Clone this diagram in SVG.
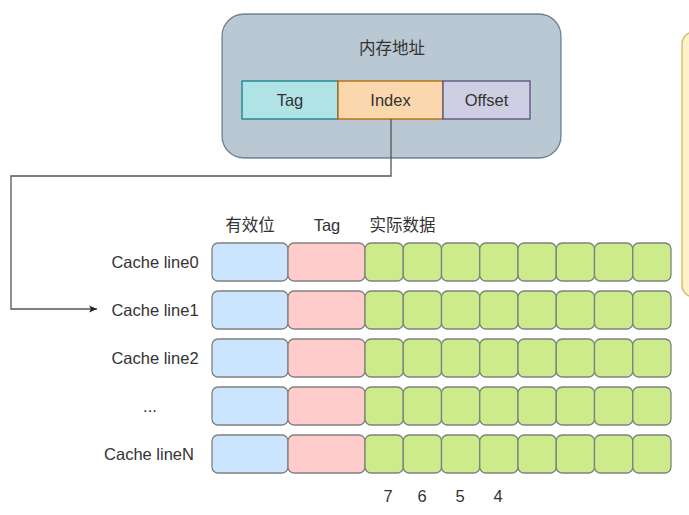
<svg xmlns="http://www.w3.org/2000/svg" width="689" height="515" viewBox="0 0 689 515">
<defs>
<style>
text{font-family:"Liberation Sans",Arial,"Noto Sans CJK SC",sans-serif;fill:#333;text-anchor:middle}
.t{font-size:16.5px}
.cjk{font-family:"Noto Sans CJK SC","Liberation Sans",sans-serif;font-size:16.5px}
.b{fill:#cce5ff;stroke:#808080;stroke-width:1.3}
.p{fill:#ffcccc;stroke:#808080;stroke-width:1.3}
.g{fill:#cdeb8b;stroke:#808080;stroke-width:1.3}
.conn{fill:none;stroke:#555;stroke-width:1.3}
</style>
<marker id="arr" markerWidth="10" markerHeight="10" refX="8" refY="5" orient="auto" markerUnits="userSpaceOnUse">
<path d="M0,1.5 L8,5 L0,8.5 L2,5 Z" fill="#222"/>
</marker>
<g id="cacheRow">
<rect class="b" x="212" y="0" width="76" height="38" rx="6"/>
<rect class="p" x="288" y="0" width="77" height="38" rx="6"/>
<rect class="g" x="365" y="0" width="38.25" height="38" rx="6"/>
<rect class="g" x="403.25" y="0" width="38.25" height="38" rx="6"/>
<rect class="g" x="441.5" y="0" width="38.25" height="38" rx="6"/>
<rect class="g" x="479.75" y="0" width="38.25" height="38" rx="6"/>
<rect class="g" x="518" y="0" width="38.25" height="38" rx="6"/>
<rect class="g" x="556.25" y="0" width="38.25" height="38" rx="6"/>
<rect class="g" x="594.5" y="0" width="38.25" height="38" rx="6"/>
<rect class="g" x="632.75" y="0" width="38.25" height="38" rx="6"/>
</g>
</defs>
<rect width="689" height="515" fill="#fff"/>
<g id="note">
<rect x="682" y="32" width="60" height="265" rx="12" fill="#fff2cc" stroke="#d6b656" stroke-width="1.3"/>
</g>
<g id="address">
<rect x="222" y="14" width="339" height="144" rx="22" fill="#bac8d3" stroke="#23445d" stroke-opacity="0.6" stroke-width="1.3"/>
<text class="cjk" x="392" y="54">内存地址</text>
</g>
<g id="addrTag">
<rect x="242" y="81" width="96" height="38" fill="#b0e3e6" stroke="#0e8088" stroke-width="1.3"/>
<text class="t" x="290" y="106">Tag</text>
</g>
<g id="addrIndex">
<rect x="338" y="81" width="105" height="38" fill="#fad7ac" stroke="#b46504" stroke-width="1.3"/>
<text class="t" x="390.5" y="106">Index</text>
</g>
<g id="addrOffset">
<rect x="443" y="81" width="87" height="38" fill="#d0cee2" stroke="#56517e" stroke-width="1.3"/>
<text class="t" x="486.5" y="106">Offset</text>
</g>
<g id="connectors">
<path class="conn" d="M391,119 V176 H11 V309 H97" marker-end="url(#arr)"/>
</g>
<g id="headers">
<text class="cjk" x="250" y="231">有效位</text>
<text class="t" x="327" y="231">Tag</text>
<text class="cjk" x="402.5" y="231">实际数据</text>
</g>
<g id="line0">
<use href="#cacheRow" y="243"/>
<text class="t" x="155" y="268">Cache line0</text>
</g>
<g id="line1">
<use href="#cacheRow" y="291"/>
<text class="t" x="155" y="316">Cache line1</text>
</g>
<g id="line2">
<use href="#cacheRow" y="339"/>
<text class="t" x="155" y="364">Cache line2</text>
</g>
<g id="lineDots">
<use href="#cacheRow" y="387"/>
<text class="t" x="150" y="412">...</text>
</g>
<g id="lineN">
<use href="#cacheRow" y="435"/>
<text class="t" x="149" y="460">Cache lineN</text>
</g>
<g id="bitNumbers">
<text class="t" x="388" y="502">7</text>
<text class="t" x="422" y="502">6</text>
<text class="t" x="460" y="502">5</text>
<text class="t" x="498" y="502">4</text>
</g>
</svg>
